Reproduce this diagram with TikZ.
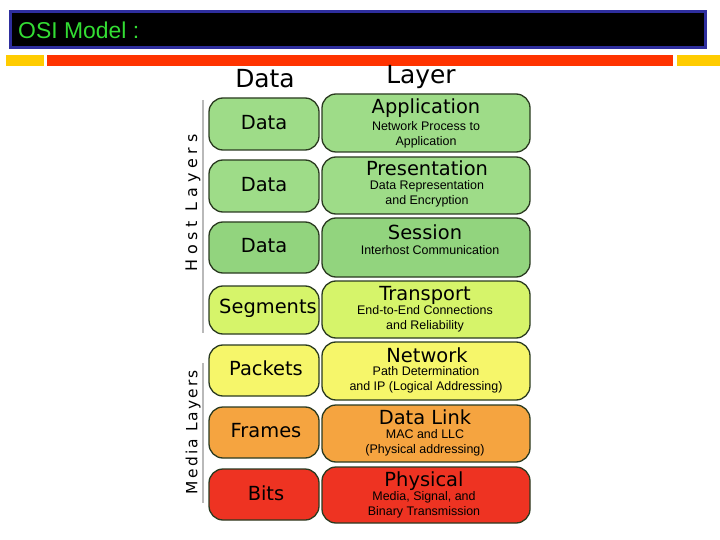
\documentclass[tikz,border=0pt]{standalone}
\usepackage{fontspec}
\setmainfont{DejaVu Sans}
\newfontfamily\arialf{Liberation Sans}
\newfontfamily\hostspaced[LetterSpace=30]{DejaVu Sans}
\newfontfamily\mediaspaced[LetterSpace=14]{DejaVu Sans}
\definecolor{titleblue}{HTML}{2E2E9E}
\definecolor{titlegreen}{HTML}{33DD33}
\definecolor{stripeyellow}{HTML}{FFCC00}
\definecolor{stripered}{HTML}{FF3300}
\definecolor{appgreen}{HTML}{9EDC88}
\definecolor{sesgreen}{HTML}{92D47E}
\definecolor{trgreen}{HTML}{D6F46A}
\definecolor{netyellow}{HTML}{F6F66A}
\definecolor{dlorange}{HTML}{F5A440}
\definecolor{phred}{HTML}{EE3322}
\definecolor{edgecol}{HTML}{2A3A20}
\begin{document}
\begin{tikzpicture}[x=1bp,y=-1bp,
  pill/.style={draw=edgecol, line width=1.3bp, rounded corners=14bp},
  lefttxt/.style={font=\fontsize{19.5}{22}\selectfont, text=black},
  ttl/.style={font=\fontsize{19.5}{22}\selectfont, text=black, inner sep=0pt, text height=14bp, text depth=1bp},
  sub/.style={font=\arialf\fontsize{12.5}{14.5}\selectfont, text=black, align=center, inner sep=0pt},
  hdr/.style={font=\fontsize{25}{28}\selectfont, text=black},
  sideline/.style={draw=gray!55, line width=2bp}]
\useasboundingbox (0,0) rectangle (720,540);
% title bar
\path[fill=black, draw=titleblue, line width=3bp] (10,12) rectangle (705,48);
\node[anchor=west, inner sep=0pt, text=titlegreen, font=\arialf\fontsize{23}{26}\selectfont] (title) at (18,30) {OSI Model :};
% stripe
\fill[stripeyellow] (6,55) rectangle (44,66);
\fill[stripered] (47,55) rectangle (673,66);
\fill[stripeyellow] (677,55) rectangle (720,66);
% headers
\node[hdr] (hdata) at (265,79) {Data};
\node[hdr] (hlayer) at (421,77) {Layer};
% side lines and labels
\draw[sideline] (203,100) -- (203,333);
\draw[sideline] (203,363) -- (203,503);
\node[rotate=90, font=\hostspaced\fontsize{16}{18}\selectfont] (host) at (193,203) {Host Layers};
\node[rotate=90, font=\mediaspaced\fontsize{15.5}{18}\selectfont] (media) at (193,432) {Media Layers};
% rows: left boxes
\path[pill, fill=appgreen] (209,98) rectangle (319,150);
\node[lefttxt] (d1) at (264,123) {Data};
\path[pill, fill=appgreen] (209,160) rectangle (319,212);
\node[lefttxt] (d2) at (264,185) {Data};
\path[pill, fill=sesgreen] (209,222) rectangle (319,273);
\node[lefttxt] (d3) at (264,246) {Data};
\path[pill, fill=trgreen] (209,286) rectangle (319,334);
\node[lefttxt] (d4) at (268,308) {Segments};
\path[pill, fill=netyellow] (209,345) rectangle (319,396);
\node[lefttxt] (d5) at (266,368) {Packets};
\path[pill, fill=dlorange] (209,407) rectangle (319,458);
\node[lefttxt] (d6) at (266,431) {Frames};
\path[pill, fill=phred] (209,469) rectangle (319,520);
\node[lefttxt] (d7) at (266,493) {Bits};
% right boxes
\path[pill, fill=appgreen] (322,94) rectangle (530,152);
\node[ttl] (l1) at (426,107) {Application};
\node[sub] (s1) at (426,135) {Network Process to\\Application};
\path[pill, fill=appgreen] (322,157) rectangle (530,214);
\node[ttl] (l2) at (427,169) {Presentation};
\node[sub] (s2) at (427,194) {Data Representation\\and Encryption};
\path[pill, fill=sesgreen] (322,218) rectangle (530,277);
\node[ttl] (l3) at (425,233) {Session};
\node[sub] (s3) at (430,250) {Interhost Communication};
\path[pill, fill=trgreen] (322,281) rectangle (530,338);
\node[ttl] (l4) at (425,294) {Transport};
\node[sub] (s4) at (425,319) {End-to-End Connections\\and Reliability};
\path[pill, fill=netyellow] (322,342) rectangle (530,400);
\node[ttl] (l5) at (427,356) {Network};
\node[sub] (s5) at (426,380) {Path Determination\\and IP (Logical Addressing)};
\path[pill, fill=dlorange] (322,405) rectangle (530,462);
\node[ttl] (l6) at (425,418) {Data Link};
\node[sub] (s6) at (425,443) {MAC and LLC\\(Physical addressing)};
\path[pill, fill=phred] (322,467) rectangle (530,523);
\node[ttl] (l7) at (424,480) {Physical};
\node[sub] (s7) at (424,505) {Media, Signal, and\\Binary Transmission};
\end{tikzpicture}
\end{document}
